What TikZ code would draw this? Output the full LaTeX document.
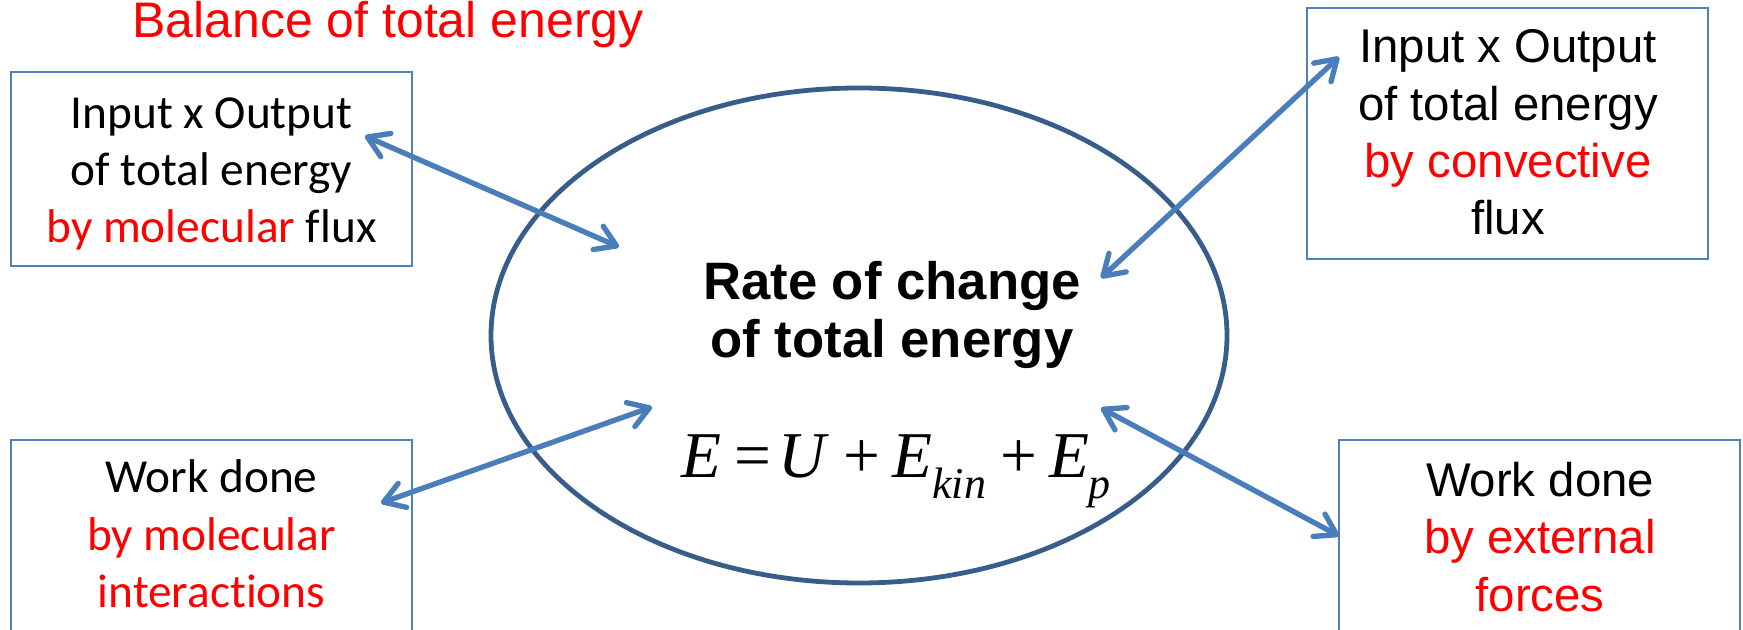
\documentclass[tikz,border=0pt]{standalone}
\usepackage{fontspec}
\setmainfont{Liberation Sans}
\newfontfamily\carlito[Ligatures={NoCommon}]{Carlito}
\newfontfamily\timesf{Liberation Serif}
\usetikzlibrary{arrows.meta,shapes.geometric}
\definecolor{boxblue}{HTML}{4F81BD}
\definecolor{arrowblue}{HTML}{4A7EBB}
\definecolor{ellblue}{HTML}{385D8A}
\definecolor{pptred}{HTML}{FF0000}
\newcommand\eqsub[1]{\raisebox{-0.32em}{\fontsize{33}{34}\selectfont\itshape #1}}
\begin{document}
\begin{tikzpicture}[x=0.75pt,y=-0.75pt,
  box/.style={draw=boxblue,line width=1.4pt,rectangle,inner sep=0pt,minimum width=300.75pt},
  txt/.style={inner sep=0pt,align=center},
  cal/.style={font=\carlito\fontsize{35.5}{43}\selectfont},
  ari/.style={font=\fontsize{35.5}{43}\selectfont},
  dblarrow/.style={draw=arrowblue,line width=4pt,line cap=round,
    >={Straight Barb[length=15pt,width=19pt,line cap=round,line join=round]},<->}
]
\useasboundingbox (0,0) rectangle (1743,630);
\clip (0,0) rectangle (1743,630);

% title
\node[anchor=base,inner sep=0pt,text=pptred,font=\fontsize{37.5}{45}\selectfont] (title) at (388,38) {Balance of total energy};

% boxes
\node[box,minimum height=145.5pt] (tl) at (211.5,169) {};
\node[box,minimum height=188.25pt] (tr) at (1507.5,133.5) {};
\node[box,minimum height=195pt] (bl) at (211.5,570) {};
\node[box,minimum height=195pt] (br) at (1539.5,570) {};

% box texts
\node[txt,cal] (tlt) at (211.5,174) {Input x Output\\of total energy\\{\color{pptred}by molecular} flux};
\node[txt,ari] (trt) at (1508,132.5) {Input x Output\\of total energy\\{\color{pptred}by convective}\\flux};
\node[txt,cal] (blt) at (211.5,534) {Work done\\{\color{pptred}by molecular}\\{\color{pptred}interactions}};
\node[txt,ari] (brt) at (1540,537) {Work done\\{\color{pptred}by external}\\{\color{pptred}forces}};

% ellipse
\node[ellipse,draw=ellblue,line width=3.6pt,inner sep=0pt,minimum width=552pt,minimum height=371.25pt] (ell) at (859,335.5) {};

% central text
\node[txt,font=\bfseries\fontsize{39.5}{43.5}\selectfont] (ct) at (892,315) {Rate of change\\of total energy};
\node[anchor=base,inner sep=0pt,font=\timesf\fontsize{49}{52}\selectfont] (eq) at (896,478)
  {\textit{E}\hspace{0.2em}=\hspace{0.12em}\textit{U}\hspace{0.22em}+\hspace{0.18em}\textit{E}\eqsub{kin}\hspace{0.22em}+\hspace{0.18em}\textit{E}\eqsub{p}};

% arrow end points
\coordinate (a1s) at (365,136);
\coordinate (a1e) at (619,247);
\coordinate (a2s) at (1339,57);
\coordinate (a2e) at (1101,278);
\coordinate (a3s) at (381,503);
\coordinate (a3e) at (652,407);
\coordinate (a4s) at (1101,408);
\coordinate (a4e) at (1339,536);

\draw[dblarrow] (a1s) -- (a1e);
\draw[dblarrow] (a2s) -- (a2e);
\draw[dblarrow] (a3s) -- (a3e);
\draw[dblarrow] (a4s) -- (a4e);
\end{tikzpicture}
\end{document}
